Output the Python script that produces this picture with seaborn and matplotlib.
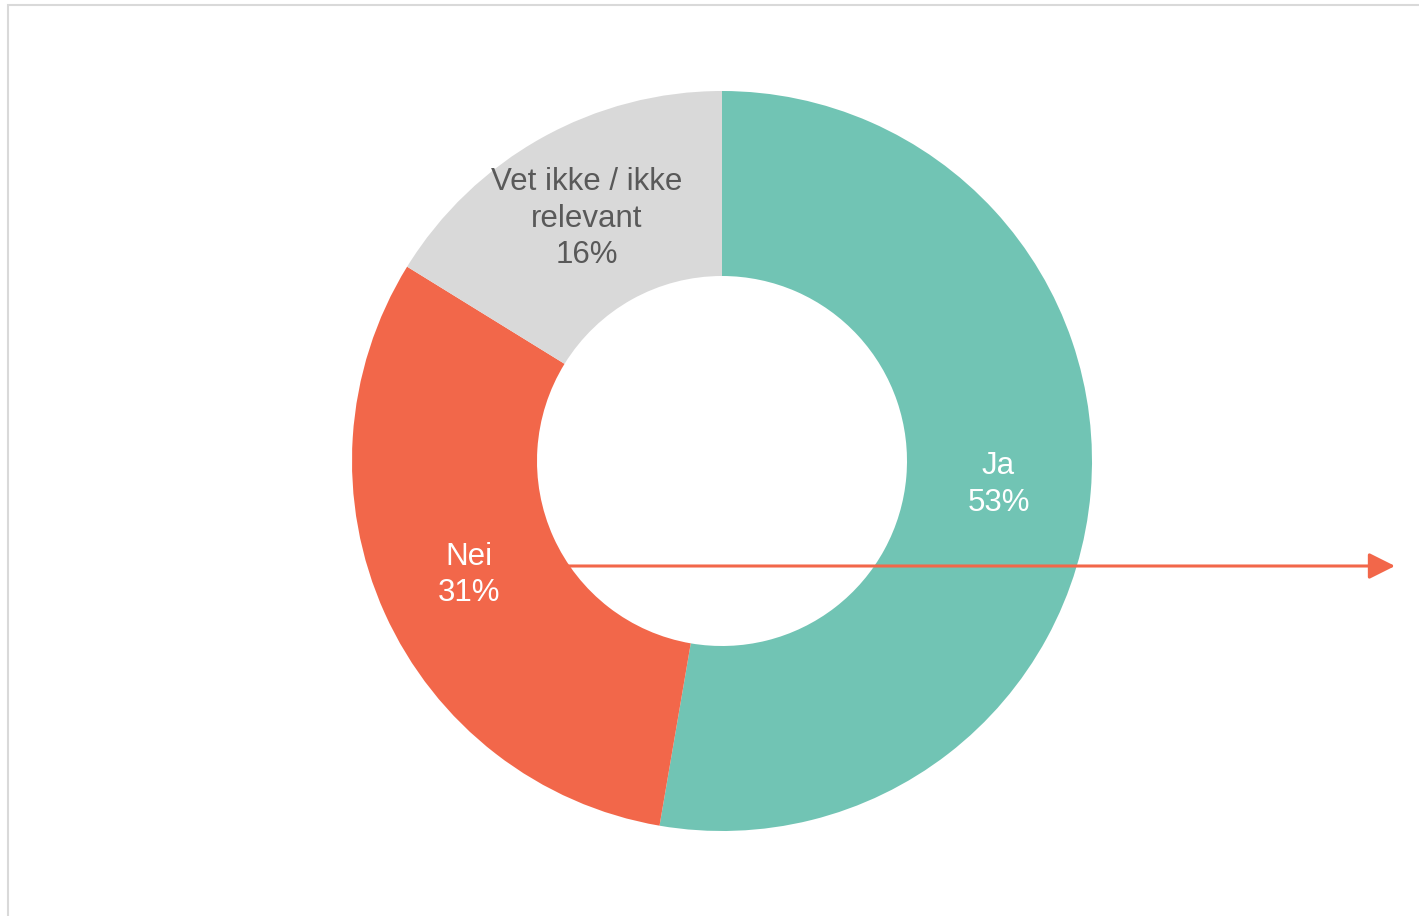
import numpy as np
import matplotlib
matplotlib.use("Agg")
import matplotlib.pyplot as plt
import seaborn as sns
from matplotlib.patches import Rectangle, FancyArrowPatch

labels = ["Ja", "Nei", "Vet ikke / ikke\nrelevant"]
shares = [52.7, 31.1, 16.2]
colors = ["#71C4B4", "#F2674A", "#D9D9D9"]
text_colors = ["white", "white", "#595959"]

sns.set_theme(style="white")
plt.rcParams['font.family'] = ['Liberation Sans', 'DejaVu Sans']

fig = plt.figure(figsize=(14.19, 9.16), dpi=100)
W, H = 1419, 916

# frame (right and bottom edges fall outside the picture)
fig.patches.append(Rectangle((8 / W, -0.1), 1.2, (H - 5) / H + 0.1, transform=fig.transFigure,
                             fill=False, edgecolor="#D9D9D9", linewidth=1.5))

ax = fig.add_axes([352 / W, 85 / H, 740 / W, 740 / H])
wedges, texts = ax.pie(shares, colors=colors, startangle=90, counterclock=False,
                       radius=1, wedgeprops=dict(width=0.5, linewidth=0),
                       labels=[f"{l}\n{round(v)}%" for l, v in zip(labels, shares)],
                       labeldistance=0.75)
for t, c in zip(texts, text_colors):
    t.set_color(c)
    t.set_fontsize(22.5)
    t.set_ha("center")
    t.set_va("center")
    t.set_linespacing(1.27)
ax.set_xlim(-1, 1)
ax.set_ylim(-1, 1)
ax.set_aspect("equal")
ax.axis("off")

# arrow annotation
fig.add_artist(FancyArrowPatch(
    (565 / W, (H - 566) / H), (1395 / W, (H - 566) / H), transform=fig.transFigure,
    arrowstyle="-|>,head_length=1.0,head_width=0.5", mutation_scale=16,
    color="#F2674A", linewidth=2.2, shrinkA=0, shrinkB=0))

fig.savefig("out.png", dpi=100)
